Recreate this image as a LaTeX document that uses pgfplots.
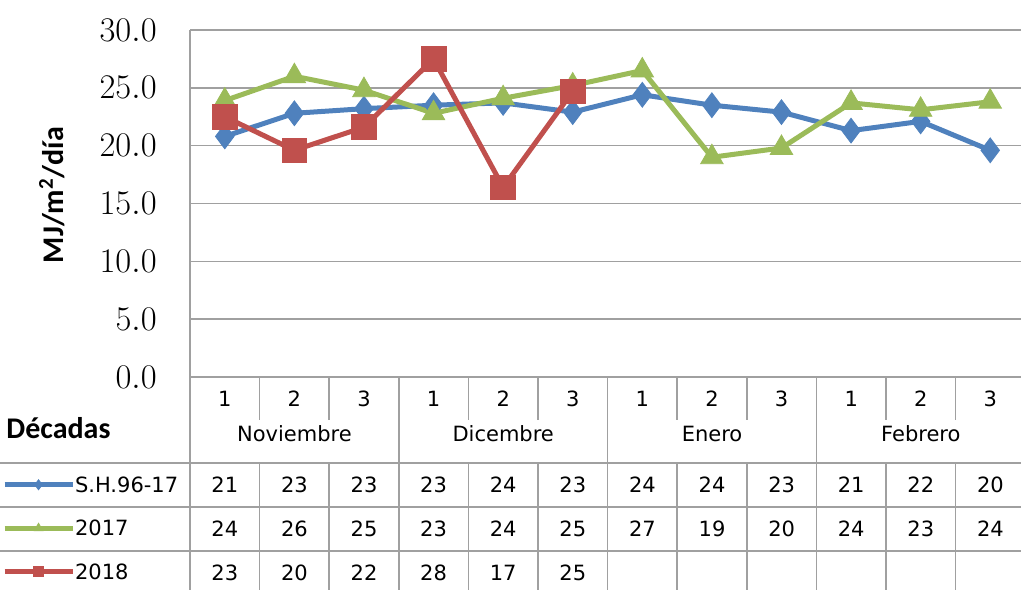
\documentclass[border=0pt]{standalone}
\usepackage{fontspec}
\setmainfont{DejaVu Sans}
\newfontfamily\carl{Carlito}
\usepackage{pgfplots}
\pgfplotsset{compat=1.18}
\definecolor{cblue}{HTML}{4F81BD}
\definecolor{cgreen}{HTML}{9BBB59}
\definecolor{cred}{HTML}{C0504D}
\definecolor{gridc}{HTML}{A0A0A0}
\begin{document}
\begin{tikzpicture}
\begin{axis}[
  at={(95pt,-188.5pt)}, anchor=south west,
  scale only axis, width=417.5pt, height=173.5pt,
  xmin=0.5, xmax=12.5, ymin=0, ymax=30,
  ytick={0,5,...,30}, xtick=\empty,
  ymajorgrids, grid style={gridc, line width=0.8pt},
  axis x line*=bottom, axis y line*=left,
  axis line style={gridc, line width=0.8pt},
  major tick length=0pt,
  yticklabel style={/pgf/number format/.cd, fixed, fixed zerofill, precision=1, /tikz/.cd,
     font=\fontsize{16}{16}\selectfont, anchor=east, inner sep=0pt, xshift=-16.5pt},
  clip=false,
  legend style={at={(axis description cs:-0.2251,-0.2478)}, anchor=north west,
     draw=none, fill=none, inner sep=0pt, outer sep=0pt, row sep=0pt,
     font=\fontsize{10.5}{12}\selectfont,
     nodes={inner sep=0pt, outer sep=0pt, text height=14.5pt, text depth=7.25pt}},
  legend cell align=left,
  legend image code/.code={\draw[#1, mark size=2.5pt, mark repeat=2, mark phase=2] plot coordinates {(0pt,0pt) (17pt,0pt) (34pt,0pt)};},
  every axis plot/.append style={line width=2.5pt, mark options={solid, line width=0.4pt}},
]
\addplot[cblue, mark=diamond*, mark size=6.2pt] coordinates {
 (1,20.8) (2,22.8) (3,23.2) (4,23.5) (5,23.7) (6,22.9)
 (7,24.4) (8,23.5) (9,22.9) (10,21.3) (11,22.1) (12,19.6)};
\addlegendentry{S.H.96-17}
\addplot[cgreen, mark=triangle*, mark size=6.5pt] coordinates {
 (1,23.9) (2,26.0) (3,24.8) (4,22.8) (5,24.1) (6,25.2)
 (7,26.5) (8,19.0) (9,19.8) (10,23.7) (11,23.1) (12,23.8)};
\addlegendentry{2017}
\addplot[cred, mark=square*, mark size=6.2pt] coordinates {
 (1,22.5) (2,19.6) (3,21.6) (4,27.5) (5,16.4) (6,24.7)};
\addlegendentry{2018}
\end{axis}
\begin{scope}[x=0.5pt,y=-0.5pt]
\begin{scope}[gridc, line width=0.75pt]
\draw (190,377) -- (190,590);
\foreach \k in {1,2,4,5,7,8,10,11} {
  \draw ({190+69.6*\k},377) -- ({190+69.6*\k},420);
  \draw ({190+69.6*\k},463) -- ({190+69.6*\k},590);
}
\foreach \k in {3,6,9} { \draw ({190+69.6*\k},377) -- ({190+69.6*\k},590); }
\foreach \yy in {463,507,551} { \draw (0,\yy) -- (1030,\yy); }
\end{scope}
\begin{scope}[every node/.style={inner sep=0pt, anchor=base, font=\fontsize{10.5}{12}\selectfont}]
\foreach \k/\d in {1/1,2/2,3/3,4/1,5/2,6/3,7/1,8/2,9/3,10/1,11/2,12/3}
  \node at ({190+69.6*(\k-0.5)},406) {\d};
\foreach \k/\m in {2/Noviembre,5/Dicembre,8/Enero,11/Febrero}
  \node at ({190+69.6*(\k-0.5)},441) {\m};
\foreach \k/\v in {1/21,2/23,3/23,4/23,5/24,6/23,7/24,8/24,9/23,10/21,11/22,12/20}
  \node at ({190+69.6*(\k-0.5)},492) {\v};
\foreach \k/\v in {1/24,2/26,3/25,4/23,5/24,6/25,7/27,8/19,9/20,10/24,11/23,12/24}
  \node at ({190+69.6*(\k-0.5)},536) {\v};
\foreach \k/\v in {1/23,2/20,3/22,4/28,5/17,6/25}
  \node at ({190+69.6*(\k-0.5)},580) {\v};
\end{scope}
\node[anchor=base west, inner sep=0pt, font=\carl\bfseries\fontsize{15}{15}\selectfont] at (6,438) {Décadas};
\node[rotate=90, inner sep=0pt, font=\carl\bfseries\fontsize{15}{15}\selectfont] at (52,195) {MJ/m\textsuperscript{2}/día};
\pgfresetboundingbox
\useasboundingbox (0,0) rectangle (1021,590);
\end{scope}
\end{tikzpicture}
\end{document}
